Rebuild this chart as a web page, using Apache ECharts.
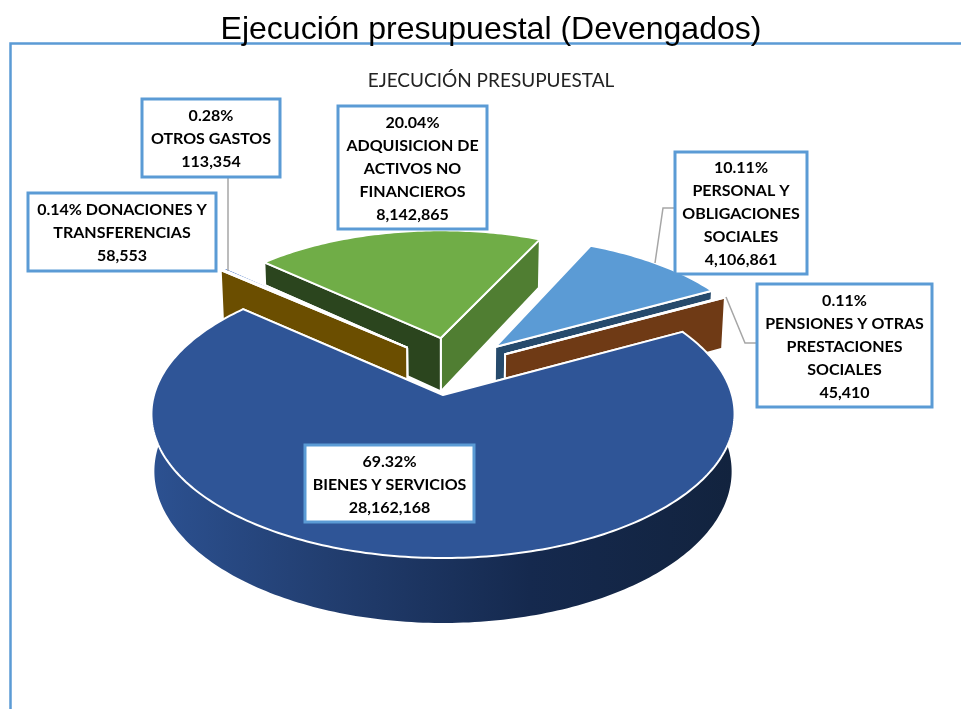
<!DOCTYPE html>
<html>
<head>
<meta charset="utf-8">
<title>Ejecución presupuestal</title>
<script src="https://cdn.jsdelivr.net/npm/echarts@6/dist/echarts.min.js"></script>
<style>
	html, body { margin: 0; padding: 0; background: #fff; }
	#main { width: 961px; height: 709px; }
</style>
</head>
<body>
<div id="main"></div>
<script>
	// datos
	var categories = ['BIENES Y SERVICIOS', 'DONACIONES Y\nTRANSFERENCIAS', 'OTROS GASTOS', 'ADQUISICION DE\nACTIVOS NO\nFINANCIEROS', 'PERSONAL Y\nOBLIGACIONES\nSOCIALES', 'PENSIONES Y OTRAS\nPRESTACIONES\nSOCIALES']
	var values = [28162168, 58553, 113354, 8142865, 4106861, 45410]

	// estilo de cada porcion: cara superior, pared recta 1, pared recta 2, pared curva
	var sliceStyles = [
		{ top: '#2F5597', wallA: '#1F3864', wallB: '#1F3864' },
		{ top: '#B8860B', wallA: '#6B4E00', wallB: '#6B4E00' },
		{ top: '#4472C4', wallA: '#294473', wallB: '#294473' },
		{ top: '#70AD47', wallA: '#2B451E', wallB: '#507E32' },
		{ top: '#5B9BD5', wallA: '#264A6C', wallB: '#264A6C' },
		{ top: '#ED7D31', wallA: '#6F3A15', wallB: '#6F3A15' }
	]
	// desplazamiento y radio de cada porcion sobre el disco
	var explode = [[0, 0], [-0.13, 0.35], [-0.13, 0.35], [-0.008, 0.425], [0.189, 0.355], [0.2235, 0.30]]
	var radius = [1, 0.985, 0.985, 0.95, 0.96, 0.965]
	// orden de pintado, de atras hacia adelante
	var drawOrder = [4, 3, 2, 1, 5, 0]
	// cajas de texto: x0, y0, x1, y1
	var boxes = [[305, 445, 474, 522], [28, 193, 216, 271], [142, 99, 280, 177], [338, 106, 487, 229], [675, 152, 807, 274], [757, 284, 932, 407]]
	var leaders = [
		[[228, 177], [228, 271]],
		[[675, 208], [663, 208], [655, 263]],
		[[756, 343], [745, 343], [726, 297]]
	]

	// proyeccion del disco
	var cx = 443, cy = 395, A = 289, B = 141.5, persp = 0.132, depth = 56.4, bottomScale = 0.99
	var startAngle = 61.7

	function project(x, y, level) {
		var w = 1 + persp * y
		var s = level ? bottomScale : 1
		return [cx + A * x / w * s, cy - B * y / w + level * depth / w]
	}

	var total = values.reduce(function (a, b) { return a + b }, 0)
	var angles = []
	var acc = startAngle
	values.forEach(function (v) {
		var span = v / total * 360
		angles.push([acc, acc + span])
		acc += span
	})

	function rimPoint(deg, off, r, level) {
		var rad = deg * Math.PI / 180
		return project(r * Math.sin(rad) + off[0], r * Math.cos(rad) + off[1], level)
	}

	function renderSlice(params, api) {
		var idx = api.value(0)
		var st = sliceStyles[idx]
		var off = explode[idx]
		var r = radius[idx]
		var a0 = angles[idx][0], a1 = angles[idx][1]
		var n = Math.max(2, Math.ceil(a1 - a0))
		var topArc = [], botArc = []
		for (var i = 0; i <= n; i++) {
			var d = a0 + (a1 - a0) * i / n
			topArc.push(rimPoint(d, off, r, 0))
			botArc.push(rimPoint(d, off, r, 1))
		}
		var apexTop = project(off[0], off[1], 0)
		var apexBot = project(off[0], off[1], 1)
		var edge = { stroke: '#fff', lineWidth: 2, lineJoin: 'round' }
		var children = []
		// pared curva
		children.push({
			type: 'polygon',
			shape: { points: topArc.concat(botArc.slice().reverse()) },
			style: {
				fill: idx === 0
					? new echarts.graphic.LinearGradient(0, 0, 1, 0, [
						{ offset: 0, color: '#2C5191' },
						{ offset: 0.3, color: '#223E70' },
						{ offset: 0.65, color: '#15294E' },
						{ offset: 1, color: '#12233E' }
					])
					: st.wallB
			}
		})
		// paredes rectas, primero la que queda mas atras
		var walls = [
			{ p: [apexTop, topArc[0], botArc[0], apexBot], fill: st.wallA, key: Math.cos(a0 * Math.PI / 180) },
			{ p: [apexTop, topArc[n], botArc[n], apexBot], fill: st.wallB, key: Math.cos(a1 * Math.PI / 180) }
		]
		walls.sort(function (a, b) { return b.key - a.key })
		walls.forEach(function (w) {
			children.push({
				type: 'polygon',
				shape: { points: w.p },
				style: Object.assign({ fill: w.fill }, edge)
			})
		})
		// cara superior
		children.push({
			type: 'polygon',
			shape: { points: [apexTop].concat(topArc) },
			style: Object.assign({ fill: st.top }, edge)
		})
		return { type: 'group', children: children }
	}

	function boxText(i) {
		var pct = (values[i] / total * 100).toFixed(2) + '%'
		var num = values[i].toLocaleString('en-US')
		// la de donaciones lleva el porcentaje en la misma linea
		var sep = i === 1 ? ' ' : '\n'
		return pct + sep + categories[i] + '\n' + num
	}

	var graphics = []
	// marco
	graphics.push({
		type: 'polyline', z: 1, silent: true,
		shape: { points: [[10.5, 709], [10.5, 43.5], [961, 43.5]] },
		style: { fill: null, stroke: '#5B9BD5', lineWidth: 2.5 }
	})
	leaders.forEach(function (pts) {
		graphics.push({
			type: 'polyline', z: 50, silent: true,
			shape: { points: pts },
			style: { fill: null, stroke: '#A6A6A6', lineWidth: 1.5 }
		})
	})
	boxes.forEach(function (b, i) {
		graphics.push({
			type: 'rect', z: 60, silent: true,
			shape: { x: b[0], y: b[1], width: b[2] - b[0], height: b[3] - b[1] },
			style: { fill: '#fff', stroke: '#5B9BD5', lineWidth: 3 }
		})
		graphics.push({
			type: 'text', z: 61, silent: true,
			x: (b[0] + b[2]) / 2, y: (b[1] + b[3]) / 2 + 1,
			style: {
				text: boxText(i),
				fill: '#000',
				font: 'bold 16px Lato, "Open Sans", sans-serif',
				lineHeight: 23,
				align: 'center',
				verticalAlign: 'middle'
			}
		})
	})

	var chart = echarts.init(document.getElementById('main'))
	chart.setOption({
		animation: false,
		backgroundColor: '#fff',
		title: [{
			text: 'Ejecución presupuestal (Devengados)',
			left: 486, top: 9, textAlign: 'center',
			textStyle: { color: '#000', fontSize: 32, fontWeight: 'normal', fontFamily: '"Liberation Sans", Arial, sans-serif' }
		}, {
			text: 'EJECUCIÓN PRESUPUESTAL',
			left: 486, top: 66, textAlign: 'center',
			textStyle: { color: '#222', fontSize: 19, fontWeight: 'normal', fontFamily: 'Lato, "Open Sans", sans-serif' }
		}],
		graphic: graphics,
		series: [{
			type: 'custom',
			coordinateSystem: 'none',
			silent: true,
			z: 10,
			data: drawOrder.map(function (i) { return [i, values[i]] }),
			renderItem: renderSlice
		}]
	})
</script>
</body>
</html>
